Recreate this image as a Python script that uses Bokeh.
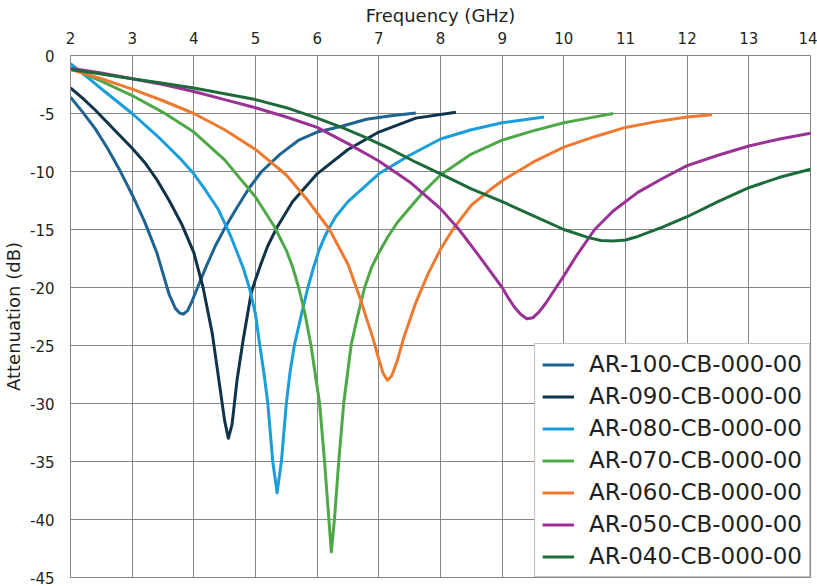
from bokeh.plotting import figure
from bokeh.models import Range1d, Legend, LegendItem, FixedTicker
from bokeh.embed import file_html
from bokeh.resources import INLINE

x_ticks = [2, 3, 4, 5, 6, 7, 8, 9, 10, 11, 12, 13, 14]
y_ticks = [0, -5, -10, -15, -20, -25, -30, -35, -40, -45]
y_tick_labels = ["0", "-5", "-10", "-15", "-20", "-25", "-30", "-35", "-40", "-45"]

names = ["AR-100-CB-000-00", "AR-090-CB-000-00", "AR-080-CB-000-00", "AR-070-CB-000-00",
         "AR-060-CB-000-00", "AR-050-CB-000-00", "AR-040-CB-000-00"]
colors = ["#1f6391", "#0f3349", "#1a9edb", "#4ea847", "#ee7a30", "#9a3295", "#1d6b3a"]

ar100_x = [2.0, 2.2, 2.4, 2.6, 2.8, 3.0, 3.2, 3.4, 3.5, 3.6, 3.7, 3.77, 3.83, 3.9, 3.97, 4.06, 4.2, 4.35, 4.5, 4.7, 4.9, 5.1, 5.4, 5.7, 6.0, 6.4, 6.8, 7.2, 7.6]
ar100_y = [-3.6, -4.9, -6.3, -8.0, -9.9, -12.0, -14.3, -17.0, -18.8, -20.6, -21.8, -22.2, -22.3, -22.0, -21.2, -20.0, -18.2, -16.4, -14.9, -13.1, -11.4, -10.0, -8.5, -7.3, -6.6, -6.1, -5.5, -5.2, -4.95]

ar090_x = [2.0, 2.2, 2.4, 2.6, 2.8, 3.0, 3.2, 3.4, 3.6, 3.8, 4.0, 4.15, 4.3, 4.42, 4.5, 4.56, 4.62, 4.7, 4.8, 4.93, 5.0, 5.1, 5.2, 5.34, 5.6, 6.0, 6.5, 7.0, 7.6, 8.25]
ar090_y = [-2.8, -3.7, -4.7, -5.8, -6.9, -8.0, -9.2, -10.7, -12.5, -14.5, -17.0, -20.0, -24.0, -28.5, -31.5, -33.0, -31.8, -28.0, -24.5, -20.5, -19.3, -17.8, -16.4, -14.9, -12.6, -10.2, -8.1, -6.6, -5.4, -4.9]

ar080_x = [2.0, 2.3, 2.6, 3.0, 3.4, 3.8, 4.0, 4.2, 4.4, 4.6, 4.8, 4.9, 5.0, 5.07, 5.14, 5.2, 5.28, 5.35, 5.42, 5.5, 5.56, 5.63, 5.75, 5.85, 5.94, 6.03, 6.1, 6.18, 6.3, 6.5, 7.0, 7.5, 8.0, 8.5, 9.0, 9.68]
ar080_y = [-0.7, -2.0, -3.3, -5.0, -6.9, -9.0, -10.2, -11.7, -13.3, -15.6, -18.3, -20.0, -22.3, -25.0, -27.5, -30.0, -35.0, -37.7, -35.0, -30.0, -27.3, -25.0, -22.2, -20.0, -18.3, -16.8, -15.9, -15.0, -13.9, -12.6, -10.2, -8.6, -7.2, -6.4, -5.8, -5.3]

ar070_x = [2.0, 2.5, 3.0, 3.5, 4.0, 4.5, 5.0, 5.3, 5.5, 5.6, 5.7, 5.8, 5.9, 6.04, 6.12, 6.19, 6.23, 6.28, 6.35, 6.43, 6.55, 6.65, 6.77, 6.88, 7.0, 7.15, 7.3, 7.7, 8.0, 8.5, 9.0, 9.5, 10.0, 10.4, 10.8]
ar070_y = [-1.1, -2.2, -3.45, -4.9, -6.6, -9.0, -12.2, -14.7, -16.8, -18.2, -20.0, -22.2, -25.0, -30.0, -35.0, -40.0, -42.8, -40.0, -35.0, -30.0, -25.0, -22.6, -20.0, -18.3, -17.0, -15.6, -14.4, -11.9, -10.3, -8.5, -7.3, -6.5, -5.8, -5.4, -5.0]

ar060_x = [2.0, 2.5, 3.0, 3.5, 4.0, 4.5, 5.0, 5.5, 5.85, 6.2, 6.5, 6.7, 6.9, 7.0, 7.07, 7.14, 7.21, 7.3, 7.4, 7.6, 7.8, 8.0, 8.2, 8.5, 8.8, 9.0, 9.5, 10.0, 10.5, 11.0, 11.5, 12.0, 12.4]
ar060_y = [-1.2, -2.0, -2.9, -3.9, -5.0, -6.4, -8.1, -10.3, -12.5, -15.0, -18.0, -21.0, -24.3, -26.2, -27.4, -28.0, -27.6, -26.3, -24.4, -21.3, -18.8, -16.7, -15.0, -12.9, -11.6, -10.8, -9.2, -7.9, -7.0, -6.2, -5.7, -5.3, -5.1]

ar050_x = [2.0, 2.5, 3.0, 3.5, 4.0, 4.5, 5.0, 5.5, 6.0, 6.5, 7.0, 7.5, 8.0, 8.3, 8.6, 9.0, 9.1, 9.2, 9.3, 9.4, 9.5, 9.6, 9.7, 9.8, 10.0, 10.2, 10.5, 10.8, 11.2, 11.6, 12.0, 12.5, 13.0, 13.5, 14.0]
ar050_y = [-1.1, -1.5, -2.0, -2.5, -3.1, -3.8, -4.5, -5.3, -6.2, -7.6, -9.1, -10.9, -13.2, -15.0, -17.1, -20.0, -20.9, -21.7, -22.3, -22.7, -22.6, -22.1, -21.4, -20.6, -19.0, -17.3, -15.0, -13.4, -11.8, -10.6, -9.5, -8.6, -7.8, -7.2, -6.7]

ar040_x = [2.0, 2.5, 3.0, 3.5, 4.0, 4.5, 5.0, 5.5, 6.0, 6.4, 6.8, 7.2, 7.6, 8.0, 8.5, 9.0, 9.5, 10.0, 10.4, 10.6, 10.8, 11.0, 11.2, 11.6, 12.0, 12.5, 13.0, 13.5, 14.0]
ar040_y = [-1.2, -1.6, -2.0, -2.4, -2.8, -3.3, -3.8, -4.5, -5.4, -6.2, -7.1, -8.1, -9.2, -10.2, -11.5, -12.6, -13.8, -15.0, -15.7, -15.95, -16.0, -15.9, -15.6, -14.8, -13.9, -12.6, -11.4, -10.5, -9.8]

series = [(ar100_x, ar100_y), (ar090_x, ar090_y), (ar080_x, ar080_y), (ar070_x, ar070_y),
          (ar060_x, ar060_y), (ar050_x, ar050_y), (ar040_x, ar040_y)]

FONT = "DejaVu Sans"
GRID = "#858585"
TEXT = "#231f20"

p = figure(width=817, height=586,
           x_range=Range1d(2, 14), y_range=Range1d(-45, 0),
           x_axis_location="above", toolbar_location=None, output_backend="svg",
           min_border_left=69, min_border_top=55, min_border_right=7, min_border_bottom=9)

p.xaxis.ticker = FixedTicker(ticks=x_ticks)
p.yaxis.ticker = FixedTicker(ticks=y_ticks)
p.yaxis.major_label_overrides = {t: l for t, l in zip(y_ticks, y_tick_labels)}
p.xaxis.axis_label = "Frequency (GHz)"
p.yaxis.axis_label = "Attenuation (dB)"
for ax in (p.xaxis, p.yaxis):
    ax.axis_label_text_font = FONT
    ax.axis_label_text_font_style = "normal"
    ax.axis_label_text_font_size = "18px"
    ax.axis_label_text_color = TEXT
    ax.major_label_text_font = FONT
    ax.major_label_text_font_size = "15px"
    ax.major_label_text_color = TEXT
    ax.major_tick_line_color = None
    ax.minor_tick_line_color = None
    ax.axis_line_color = GRID
p.xaxis.major_label_standoff = 6
p.xaxis.axis_label_standoff = 3
p.yaxis.major_label_standoff = 10
p.yaxis.axis_label_standoff = 3

p.grid.grid_line_color = GRID
p.grid.grid_line_width = 1
p.outline_line_color = GRID

items = []
for (xs, ys), c, n in zip(series, colors, names):
    r = p.line(xs, ys, line_color=c, line_width=3, line_join="round")
    items.append(LegendItem(label=n, renderers=[r]))

legend = Legend(items=items, location="bottom_right", margin=0, padding=7,
                spacing=6, label_height=25, glyph_height=25, glyph_width=32,
                label_standoff=15, label_text_font=FONT, label_text_font_size="23px",
                label_text_color=TEXT, border_line_color=GRID, border_line_width=1,
                background_fill_color="white", background_fill_alpha=1)
p.add_layout(legend)

open("out.html", "w").write(file_html(p, INLINE))
